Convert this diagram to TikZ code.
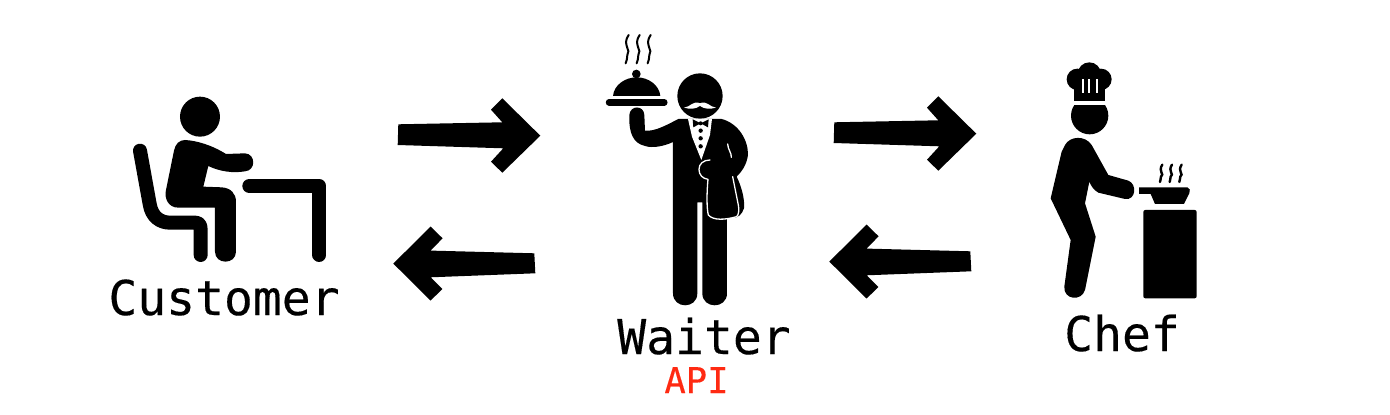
\documentclass[tikz,border=0pt]{standalone}
\usepackage{fontspec}
\setmonofont[FakeBold=0.25]{DejaVu Sans Mono}
\definecolor{apired}{HTML}{FF2A12}
\tikzset{
  x=1pt,y=-1pt,
  label/.style={font=\ttfamily\fontsize{48}{48}\selectfont,text=black,inner sep=0pt,anchor=base},
  apilabel/.style={font=\ttfamily\fontsize{35.5}{35.5}\selectfont,text=apired,inner sep=0pt,anchor=base},
  steam/.style={draw=black,line cap=round,fill=none},
  towelline/.style={draw=white,line width=1.3pt,line cap=round,line join=round,fill=none},
  pics/fwdarrow/.style={code={\fill[black] (0.3,-10.3) -- (104.3,-12.3) -- (93,-24.9) -- (104.3,-36.3) -- (142.3,1.1) -- (104.3,38.1) -- (93,27.1) -- (105.3,13.7) -- (-0.3,10.4) -- cycle;}},
  pics/backarrow/.style={code={\fill[black] (-0.5,-10) -- (-104.2,-12.7) -- (-92.2,-25) -- (-104.2,-36.7) -- (-141.5,0.3) -- (-104.2,37.3) -- (-92.5,25.7) -- (-104.2,14) -- (0.5,10) -- cycle;}},
}
\begin{document}
\begin{tikzpicture}
\useasboundingbox[fill=white] (0,0) rectangle (1390,415);
% labels
\node[label] (customer) at (224,315) {Customer};
\node[label] (waiter) at (704,354) {Waiter};
\node[label] (chef) at (1122,351) {Chef};
\node[apilabel] (api) at (696.5,393) {API};
% arrows
\coordinate (tailA) at (398,134.6);
\coordinate (tailB) at (534.8,263.3);
\coordinate (tailC) at (834,132.6);
\coordinate (tailD) at (970.8,261.3);
\pic (arrowA) at (tailA) {fwdarrow};
\pic (arrowB) at (tailB) {backarrow};
\pic (arrowC) at (tailC) {fwdarrow};
\pic (arrowD) at (tailD) {backarrow};
% customer
\begin{scope}[shift={(100,80)},scale=0.3333]
\fill (300,110) circle (60);
\fill (255,180) .. controls (290,182) and (335,195) .. (378,222) -- (435,220)
  .. controls (468,222) and (468,272) .. (435,274) .. controls (400,280) and (360,275) .. (325,258)
  -- (310,320) -- (365,322) .. controls (392,324) and (408,340) .. (408,365) -- (408,515)
  .. controls (408,555) and (345,555) .. (345,515) -- (345,383) -- (235,383)
  .. controls (205,383) and (192,355) .. (198,330) -- (222,212) .. controls (226,192) and (238,180) .. (255,180) -- cycle;
\draw[line width=14pt,line cap=round,line join=round] (120,212) -- (149,372) .. controls (155,410) and (180,428) .. (210,428) -- (285,428) .. controls (298,428) and (302,435) .. (302,450) -- (302,525);
\draw[line width=14pt,line cap=round,line join=round] (448,318) -- (658,318) -- (658,525);
\end{scope}
% waiter
\begin{scope}[shift={(590,20)},scale=0.3333]
\foreach \sx in {0,33,66} {
  \draw[steam,line width=2pt,xshift=\sx pt] (116,45) .. controls (95,75) and (125,90) .. (112,105) .. controls (112,115) and (110,122) .. (107,130);
}
\fill (139,162) circle (13);
\fill (69,228) .. controls (72,195) and (105,172) .. (140,172) .. controls (175,172) and (208,195) .. (211,228) -- cycle;
\draw[line width=6.5pt,line cap=round] (57,247) -- (223,247);
\fill (330,228) circle (68);
\fill[white] (282,263) .. controls (300,262) and (310,240) .. (330,250) .. controls (350,240) and (360,262) .. (378,263) .. controls (360,268) and (345,268) .. (330,258) .. controls (315,268) and (300,268) .. (282,263) -- cycle;
% body
\fill (118,285) .. controls (120,255) and (162,255) .. (163,285) -- (165,332)
  .. controls (195,335) and (230,315) .. (265,297) -- (395,297)
  .. controls (445,310) and (475,360) .. (474,405) .. controls (470,435) and (455,455) .. (440,470)
  .. controls (455,500) and (465,540) .. (462,565) .. controls (455,585) and (445,592) .. (430,594) -- (411,594) -- (411,820)
  .. controls (411,868) and (337,868) .. (337,820) -- (337,547) -- (322,547) -- (322,820)
  .. controls (322,868) and (249,868) .. (249,820) -- (249,366)
  .. controls (220,380) and (185,385) .. (165,378) .. controls (130,370) and (116,340) .. (118,285) -- cycle;
% shirt
\fill[white] (294,297) -- (366,297) -- (360,345) -- (334,420) -- (306,350) -- cycle;
\fill (332,310) -- (308,298) -- (310,322) -- cycle;
\fill (332,310) -- (356,298) -- (354,322) -- cycle;
\fill (332,310) circle (6);
\foreach \by in {332,355,379} { \fill (332,\by) circle (6.5); }
% towel outline
\draw[towelline] (413,372) .. controls (414,390) and (425,398) .. (424,412);
\draw[towelline] (360,420) .. controls (340,420) and (327,432) .. (327,448) .. controls (327,465) and (338,476) .. (354,478)
  .. controls (350,520) and (350,565) .. (355,585) .. controls (370,602) and (405,600) .. (440,590)
  .. controls (446,585) and (448,570) .. (445,555) -- (428,470);
\end{scope}
% chef
\begin{scope}[shift={(1030,50)},scale=0.3333]
\fill (142,88) circle (32);
\fill (178,72) circle (35);
\fill (213,88) circle (32);
\fill (133,95) rectangle (225,153);
\foreach \hx in {158,178,200} { \draw[white,line width=2.3pt] (\hx,88) -- (\hx,130); }
\begin{scope}
\clip (110,167) rectangle (250,260);
\fill (179,197) circle (56);
\end{scope}
\fill (105,285) .. controls (120,258) and (165,255) .. (185,285) -- (235,375) -- (295,392)
  .. controls (322,402) and (318,452) .. (285,447) -- (205,428) .. controls (190,420) and (182,405) .. (178,395)
  -- (165,460) -- (197,560) -- (165,720) .. controls (155,755) and (100,750) .. (103,710)
  -- (122,570) -- (62,445) -- (95,305) -- cycle;
\fill (327,412) -- (472,412) .. controls (480,414) and (482,422) .. (478,430) -- (462,462) -- (375,462) -- (362,432) -- (327,432) -- cycle;
\foreach \sx in {0,29,58} {
  \draw[steam,line width=2.4pt,xshift=\sx pt] (397,344) .. controls (383,365) and (405,372) .. (393,380) .. controls (393,388) and (390,392) .. (390,396);
}
\fill[rounded corners=2pt] (340,480) rectangle (500,745);
\end{scope}
\end{tikzpicture}
\end{document}
